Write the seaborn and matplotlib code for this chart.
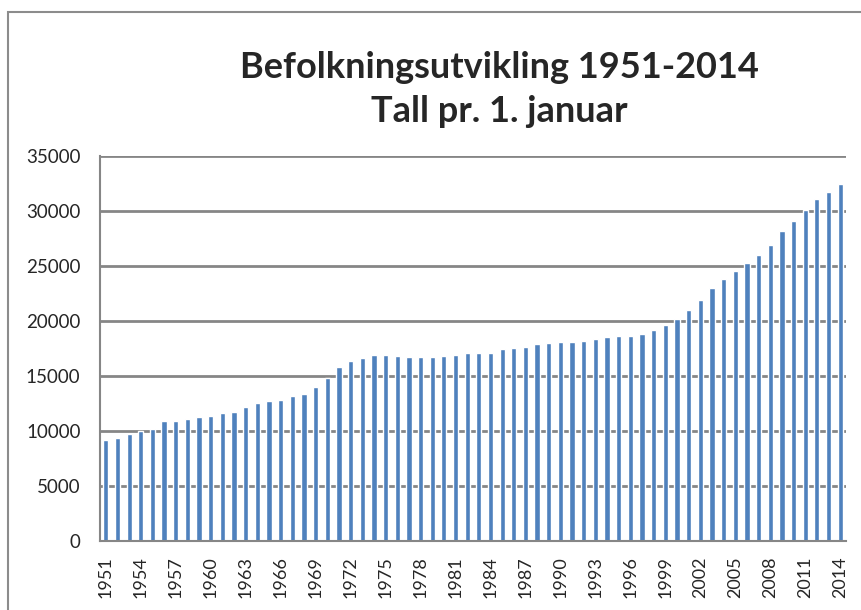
import numpy as np
import pandas as pd
import matplotlib
matplotlib.use("Agg")
import matplotlib.pyplot as plt
import seaborn as sns
from matplotlib.patches import Rectangle

# Befolkning pr. 1. januar
years = list(range(1951, 2015))
population = [
    9180, 9390, 9700, 10000, 10150, 10880, 10940, 11060, 11270, 11360,
    11600, 11730, 12210, 12520, 12700, 12820, 13180, 13360, 13970, 14850,
    15790, 16370, 16640, 16940, 16880, 16790, 16730, 16760, 16700, 16790,
    16910, 17060, 17090, 17090, 17480, 17520, 17670, 17910, 18000, 18120,
    18120, 18180, 18360, 18550, 18610, 18610, 18820, 19150, 19640, 20180,
    21000, 21940, 22970, 23820, 24580, 25310, 25970, 26940, 28150, 29090,
    30120, 31060, 31760, 32450,
]
yticks = list(range(0, 35001, 5000))

df = pd.DataFrame({"aar": [str(y) for y in years], "folketall": population})

sns.set_style("white")
plt.rcParams["font.family"] = ["Lato", "DejaVu Sans"]

fig = plt.figure(figsize=(8.61, 6.10), dpi=100)
ax = fig.add_axes([100 / 861, 69 / 610, 746 / 861, 385 / 610])

# ramme rundt diagrammet
fig.patches.append(Rectangle((8 / 861, -0.01), 1.0, 598 / 610 + 0.01,
                             transform=fig.transFigure, fill=False,
                             edgecolor="#8c8c8c", lw=1.5))

sns.barplot(data=df, x="aar", y="folketall", color="#4F81BD", width=0.45,
            saturation=1, ax=ax)
for p in ax.patches:
    p.set_zorder(3)

ax.set_xlim(-0.5, len(years) - 0.5)
ax.set_ylim(0, 35000)
ax.set_yticks(yticks)
ax.set_yticklabels([str(v) for v in yticks], fontsize=13.5)
ax.set_axisbelow(True)
ax.yaxis.grid(True, color="#868686", lw=2)

pos = np.arange(len(years))
ax.set_xticks(pos[::3])
ax.set_xticklabels([str(y) for y in years[::3]], rotation=90, fontsize=13)
ax.set_xticks(np.arange(-0.5, len(years)), minor=True)
ax.tick_params(axis="x", which="major", length=0, pad=11)
ax.tick_params(axis="x", which="minor", length=5, width=1.5, color="#868686",
               direction="out")
ax.tick_params(axis="y", length=5, width=1.5, color="#868686", direction="out", pad=9)

for side in ["top", "right"]:
    ax.spines[side].set_visible(False)
for side in ["left", "bottom"]:
    ax.spines[side].set_color("#868686")
    ax.spines[side].set_linewidth(1.5)
    ax.spines[side].set_zorder(4)

ax.set_xlabel("")
ax.set_ylabel("")

fig.text(499 / 861, 1 - 67 / 610, "Befolkningsutvikling 1951-2014", ha="center",
         va="center", fontsize=26, fontweight="bold")
fig.text(499 / 861, 1 - 112 / 610, "Tall pr. 1. januar", ha="center",
         va="center", fontsize=26, fontweight="bold")

fig.savefig("out.png", dpi=100)
